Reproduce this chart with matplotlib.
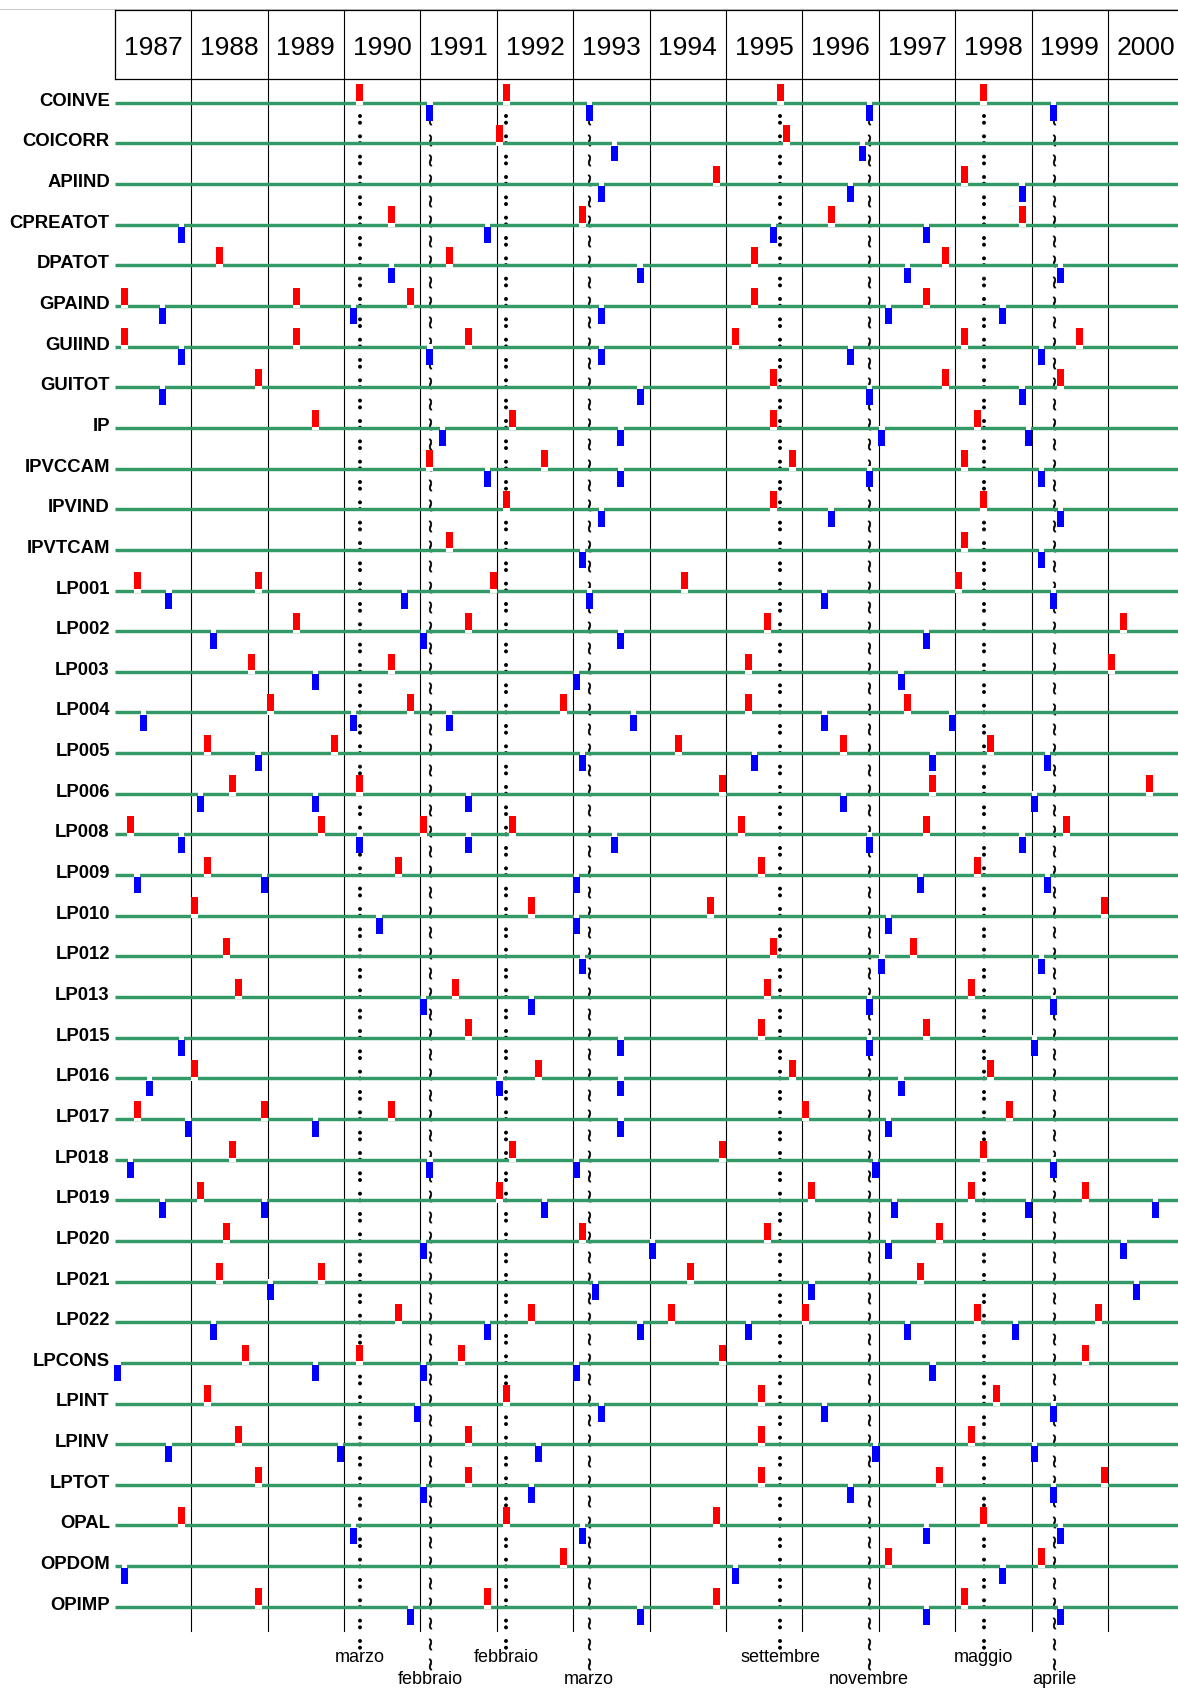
import numpy as np
import matplotlib.pyplot as plt
from matplotlib.patches import Rectangle

plt.rcParams['font.family'] = ['Liberation Sans', 'DejaVu Sans']

years = list(range(1987, 2001))

series = ['COINVE', 'COICORR', 'APIIND', 'CPREATOT', 'DPATOT', 'GPAIND', 'GUIIND',
          'GUITOT', 'IP', 'IPVCCAM', 'IPVIND', 'IPVTCAM', 'LP001', 'LP002', 'LP003',
          'LP004', 'LP005', 'LP006', 'LP008', 'LP009', 'LP010', 'LP012', 'LP013',
          'LP015', 'LP016', 'LP017', 'LP018', 'LP019', 'LP020', 'LP021', 'LP022',
          'LPCONS', 'LPINT', 'LPINV', 'LPTOT', 'OPAL', 'OPDOM', 'OPIMP']

# picchi (rosso) per serie, (anno, mese)
peaks = [
    [(1990, 3), (1992, 2), (1995, 9), (1998, 5)],
    [(1992, 1), (1995, 10)],
    [(1994, 11), (1998, 2)],
    [(1990, 8), (1993, 2), (1996, 5), (1998, 11)],
    [(1988, 5), (1991, 5), (1995, 5), (1997, 11)],
    [(1987, 2), (1989, 5), (1990, 11), (1995, 5), (1997, 8)],
    [(1987, 2), (1989, 5), (1991, 8), (1995, 2), (1998, 2), (1999, 8)],
    [(1988, 11), (1995, 8), (1997, 11), (1999, 5)],
    [(1989, 8), (1992, 3), (1995, 8), (1998, 4)],
    [(1991, 2), (1992, 8), (1995, 11), (1998, 2)],
    [(1992, 2), (1995, 8), (1998, 5)],
    [(1991, 5), (1998, 2)],
    [(1987, 4), (1988, 11), (1991, 12), (1994, 6), (1998, 1)],
    [(1989, 5), (1991, 8), (1995, 7), (2000, 3)],
    [(1988, 10), (1990, 8), (1995, 4), (2000, 1)],
    [(1989, 1), (1990, 11), (1992, 11), (1995, 4), (1997, 5)],
    [(1988, 3), (1989, 11), (1994, 5), (1996, 7), (1998, 6)],
    [(1988, 7), (1990, 3), (1994, 12), (1997, 9), (2000, 7)],
    [(1987, 3), (1989, 9), (1991, 1), (1992, 3), (1995, 3), (1997, 8), (1999, 6)],
    [(1988, 3), (1990, 9), (1995, 6), (1998, 4)],
    [(1988, 1), (1992, 6), (1994, 10), (1999, 12)],
    [(1988, 6), (1995, 8), (1997, 6)],
    [(1988, 8), (1991, 6), (1995, 7), (1998, 3)],
    [(1991, 8), (1995, 6), (1997, 8)],
    [(1988, 1), (1992, 7), (1995, 11), (1998, 6)],
    [(1987, 4), (1988, 12), (1990, 8), (1996, 1), (1998, 9)],
    [(1988, 7), (1992, 3), (1994, 12), (1998, 5)],
    [(1988, 2), (1992, 1), (1996, 2), (1998, 3), (1999, 9)],
    [(1988, 6), (1993, 2), (1995, 7), (1997, 10)],
    [(1988, 5), (1989, 9), (1994, 7), (1997, 7)],
    [(1990, 9), (1992, 6), (1994, 4), (1996, 1), (1998, 4), (1999, 11)],
    [(1988, 9), (1990, 3), (1991, 7), (1994, 12), (1999, 9)],
    [(1988, 3), (1992, 2), (1995, 6), (1998, 7)],
    [(1988, 8), (1991, 8), (1995, 6), (1998, 3)],
    [(1988, 11), (1991, 8), (1995, 6), (1997, 10), (1999, 12)],
    [(1987, 11), (1992, 2), (1994, 11), (1998, 5)],
    [(1992, 11), (1997, 2), (1999, 2)],
    [(1988, 11), (1991, 11), (1994, 11), (1998, 2)],
]

# minimi (blu) per serie
troughs = [
    [(1991, 2), (1993, 3), (1996, 11), (1999, 4)],
    [(1993, 7), (1996, 10)],
    [(1993, 5), (1996, 8), (1998, 11)],
    [(1987, 11), (1991, 11), (1995, 8), (1997, 8)],
    [(1990, 8), (1993, 11), (1997, 5), (1999, 5)],
    [(1987, 8), (1990, 2), (1993, 5), (1997, 2), (1998, 8)],
    [(1987, 11), (1991, 2), (1993, 5), (1996, 8), (1999, 2)],
    [(1987, 8), (1993, 11), (1996, 11), (1998, 11)],
    [(1991, 4), (1993, 8), (1997, 1), (1998, 12)],
    [(1991, 11), (1993, 8), (1996, 11), (1999, 2)],
    [(1993, 5), (1996, 5), (1999, 5)],
    [(1993, 2), (1999, 2)],
    [(1987, 9), (1990, 10), (1993, 3), (1996, 4), (1999, 4)],
    [(1988, 4), (1991, 1), (1993, 8), (1997, 8)],
    [(1989, 8), (1993, 1), (1997, 4)],
    [(1987, 5), (1990, 2), (1991, 5), (1993, 10), (1996, 4), (1997, 12)],
    [(1988, 11), (1993, 2), (1995, 5), (1997, 9), (1999, 3)],
    [(1988, 2), (1989, 8), (1991, 8), (1996, 7), (1999, 1)],
    [(1987, 11), (1990, 3), (1991, 8), (1993, 7), (1996, 11), (1998, 11)],
    [(1987, 4), (1988, 12), (1993, 1), (1997, 7), (1999, 3)],
    [(1990, 6), (1993, 1), (1997, 2)],
    [(1993, 2), (1997, 1), (1999, 2)],
    [(1991, 1), (1992, 6), (1996, 11), (1999, 4)],
    [(1987, 11), (1993, 8), (1996, 11), (1999, 1)],
    [(1987, 6), (1992, 1), (1993, 8), (1997, 4)],
    [(1987, 12), (1989, 8), (1993, 8), (1997, 2)],
    [(1987, 3), (1991, 2), (1993, 1), (1996, 12), (1999, 4)],
    [(1987, 8), (1988, 12), (1992, 8), (1997, 3), (1998, 12), (2000, 8)],
    [(1991, 1), (1994, 1), (1997, 2), (2000, 3)],
    [(1989, 1), (1993, 4), (1996, 2), (2000, 5)],
    [(1988, 4), (1991, 11), (1993, 11), (1995, 4), (1997, 5), (1998, 10)],
    [(1987, 1), (1989, 8), (1991, 1), (1993, 1), (1997, 9)],
    [(1990, 12), (1993, 5), (1996, 4), (1999, 4)],
    [(1987, 9), (1989, 12), (1992, 7), (1996, 12), (1999, 1)],
    [(1991, 1), (1992, 6), (1996, 8), (1999, 4)],
    [(1990, 2), (1993, 2), (1997, 8), (1999, 5)],
    [(1987, 2), (1995, 2), (1998, 8)],
    [(1990, 11), (1993, 11), (1997, 8), (1999, 5)],
]

ref_peaks = [(1990, 3), (1992, 2), (1995, 9), (1998, 5)]
ref_peak_labels = ['marzo', 'febbraio', 'settembre', 'maggio']
ref_troughs = [(1991, 2), (1993, 3), (1996, 11), (1999, 4)]
ref_trough_labels = ['febbraio', 'marzo', 'novembre', 'aprile']

# geometria (pixel)
W, H = 1178, 1689
ppy = 76.4                 # pixel per anno
x_left = 1987 - 114.8 / ppy
x_right = 1987 + (W - 114.8) / ppy
row0, row_step = 102.7, 40.65
px = 1.0 / ppy

green = '#339966'


def month_x(ym):
    return ym[0] + (ym[1] - 0.5) / 12.0


fig = plt.figure(figsize=(W / 100, H / 100), dpi=100)
ax = fig.add_axes([0, 0, 1, 1])
ax.set_xlim(x_left, x_right)
ax.set_ylim(H, 0)
ax.axis('off')

# intestazione con gli anni
ax.plot([x_left, x_right], [9, 9], color='#c8c8c8', lw=0.7)
ax.plot([1987, x_right], [10, 10], color='black', lw=0.9)
ax.plot([1987, x_right], [79, 79], color='black', lw=0.9)
ax.plot([1987, 1987], [10, 79], color='black', lw=0.9)
for y in years:
    ax.text(y + 0.5, 47.5, str(y), ha='center', va='center', fontsize=19)
for y in years[1:]:
    ax.plot([y, y], [10, 1631], color='black', lw=0.8, zorder=2)

# linee di riferimento: picchi (punti) e minimi (tilde)
lwd = 2.9
g1 = 6.7 * 0.72 / lwd
g2 = (row_step / 2 - 6.7) * 0.72 / lwd
for ym, lab in zip(ref_peaks, ref_peak_labels):
    x = month_x(ym)
    ax.plot([x, x], [116.2, 1650], color='black', lw=lwd,
            linestyle=(0, (0.001, g1, 0.001, g2)), dash_capstyle='round', zorder=2)
    ax.text(x, 1657, lab, ha='center', va='center', fontsize=13)

for ym, lab in zip(ref_troughs, ref_trough_labels):
    x = month_x(ym)
    yy = np.arange(row0 + 16.5, 1668, row_step / 2)
    ax.plot(np.full(len(yy), x), yy, linestyle='none', marker='$\\wr$',
            markersize=8, markeredgewidth=0.45, color='black', zorder=2)
    ax.text(x, 1679, lab, ha='center', va='center', fontsize=13)

# serie
mw = 7 * px
for i, name in enumerate(series):
    yl = row0 + i * row_step
    ax.plot([1987, x_right], [yl, yl], color=green, lw=2.45,
            solid_capstyle='butt', zorder=3)
    ax.text(1987 - 5 * px, yl - 1.5, name, ha='right', va='center',
            fontsize=13.3, fontweight='bold')
    for p in peaks[i]:
        xc = month_x(p)
        ax.add_patch(Rectangle((xc - mw / 2, yl - 2.3), mw, 4.6,
                               facecolor='white', edgecolor='none', zorder=4))
        ax.add_patch(Rectangle((xc - mw / 2, yl - 18.3), mw, 16.9,
                               facecolor='#ff0000', edgecolor='none', zorder=5))
    for t in troughs[i]:
        xc = month_x(t)
        ax.add_patch(Rectangle((xc - 2.6 * px, yl - 2.3), 5.2 * px, 4.6,
                               facecolor='white', edgecolor='none', zorder=4))
        ax.add_patch(Rectangle((xc - mw / 2, yl + 2.2), mw, 15.9,
                               facecolor='#0000ff', edgecolor='none', zorder=5))

fig.savefig('out.png', dpi=100)
